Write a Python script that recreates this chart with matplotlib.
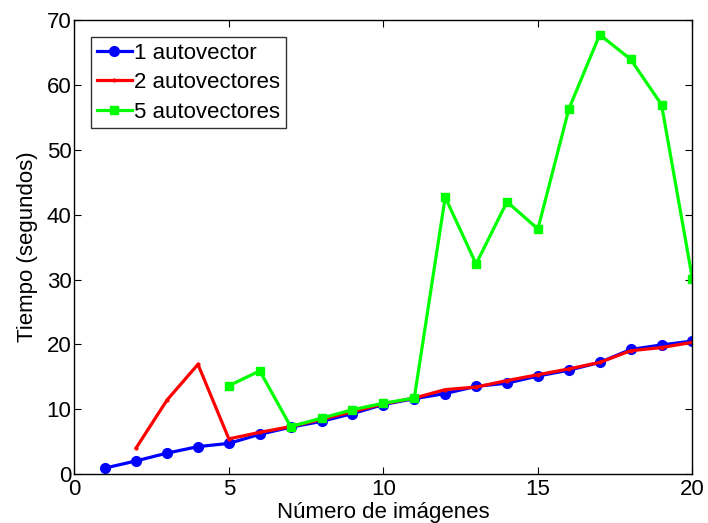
import matplotlib
matplotlib.use("Agg")
import matplotlib.pyplot as plt

plt.rcParams['font.family'] = ['Liberation Sans', 'DejaVu Sans']

x1 = list(range(1, 21))
y1 = [0.9, 2.0, 3.2, 4.2, 4.7, 6.1, 7.2, 8.1, 9.3, 10.7,
      11.6, 12.4, 13.5, 14.0, 15.1, 16.0, 17.2, 19.2, 19.9, 20.5]
x2 = list(range(2, 21))
y2 = [4.0, 11.4, 16.9, 5.4, 6.4, 7.3, 8.4, 9.6, 10.8,
      11.7, 13.0, 13.4, 14.4, 15.3, 16.2, 17.2, 19.0, 19.5, 20.3]
x5 = list(range(5, 21))
y5 = [13.6, 15.9, 7.3, 8.6, 9.9, 10.9, 11.7, 42.7, 32.4, 42.0,
      37.8, 56.3, 67.8, 64.0, 57.0, 30.1]
labels = ['1 autovector', '2 autovectores', '5 autovectores']

fig = plt.figure(figsize=(7.08, 5.23), dpi=100)
ax = fig.add_axes([0.105, 0.094, 0.873, 0.867])
ax.plot(x1, y1, color='#0000ff', lw=2.3, marker='o', ms=7, label=labels[0])
ax.plot(x2, y2, color='#ff0000', lw=2.3, marker='.', ms=4, label=labels[1])
ax.plot(x5, y5, color='#00ff00', lw=2.3, marker='s', ms=6, label=labels[2])

ax.set_xlim(0, 20)
ax.set_ylim(0, 70)
ax.set_xticks([0, 5, 10, 15, 20])
ax.set_yticks(range(0, 71, 10))
ax.tick_params(direction='in', top=True, right=True, labelsize=16, length=5)
ax.tick_params(axis='x', pad=4)
ax.tick_params(axis='y', pad=2)
for s in ax.spines.values():
    s.set_linewidth(1.0)
ax.set_xlabel('Número de imágenes', fontsize=16, labelpad=1)
ax.set_ylabel('Tiempo (segundos)', fontsize=16, labelpad=6)
leg = ax.legend(loc='upper left', fontsize=16, frameon=True, fancybox=False,
                edgecolor='black', handlelength=1.6, handletextpad=0.1,
                borderpad=0.25, labelspacing=0.38, borderaxespad=0.75)
leg.get_frame().set_linewidth(1.0)
fig.savefig('out.png', dpi=100)
